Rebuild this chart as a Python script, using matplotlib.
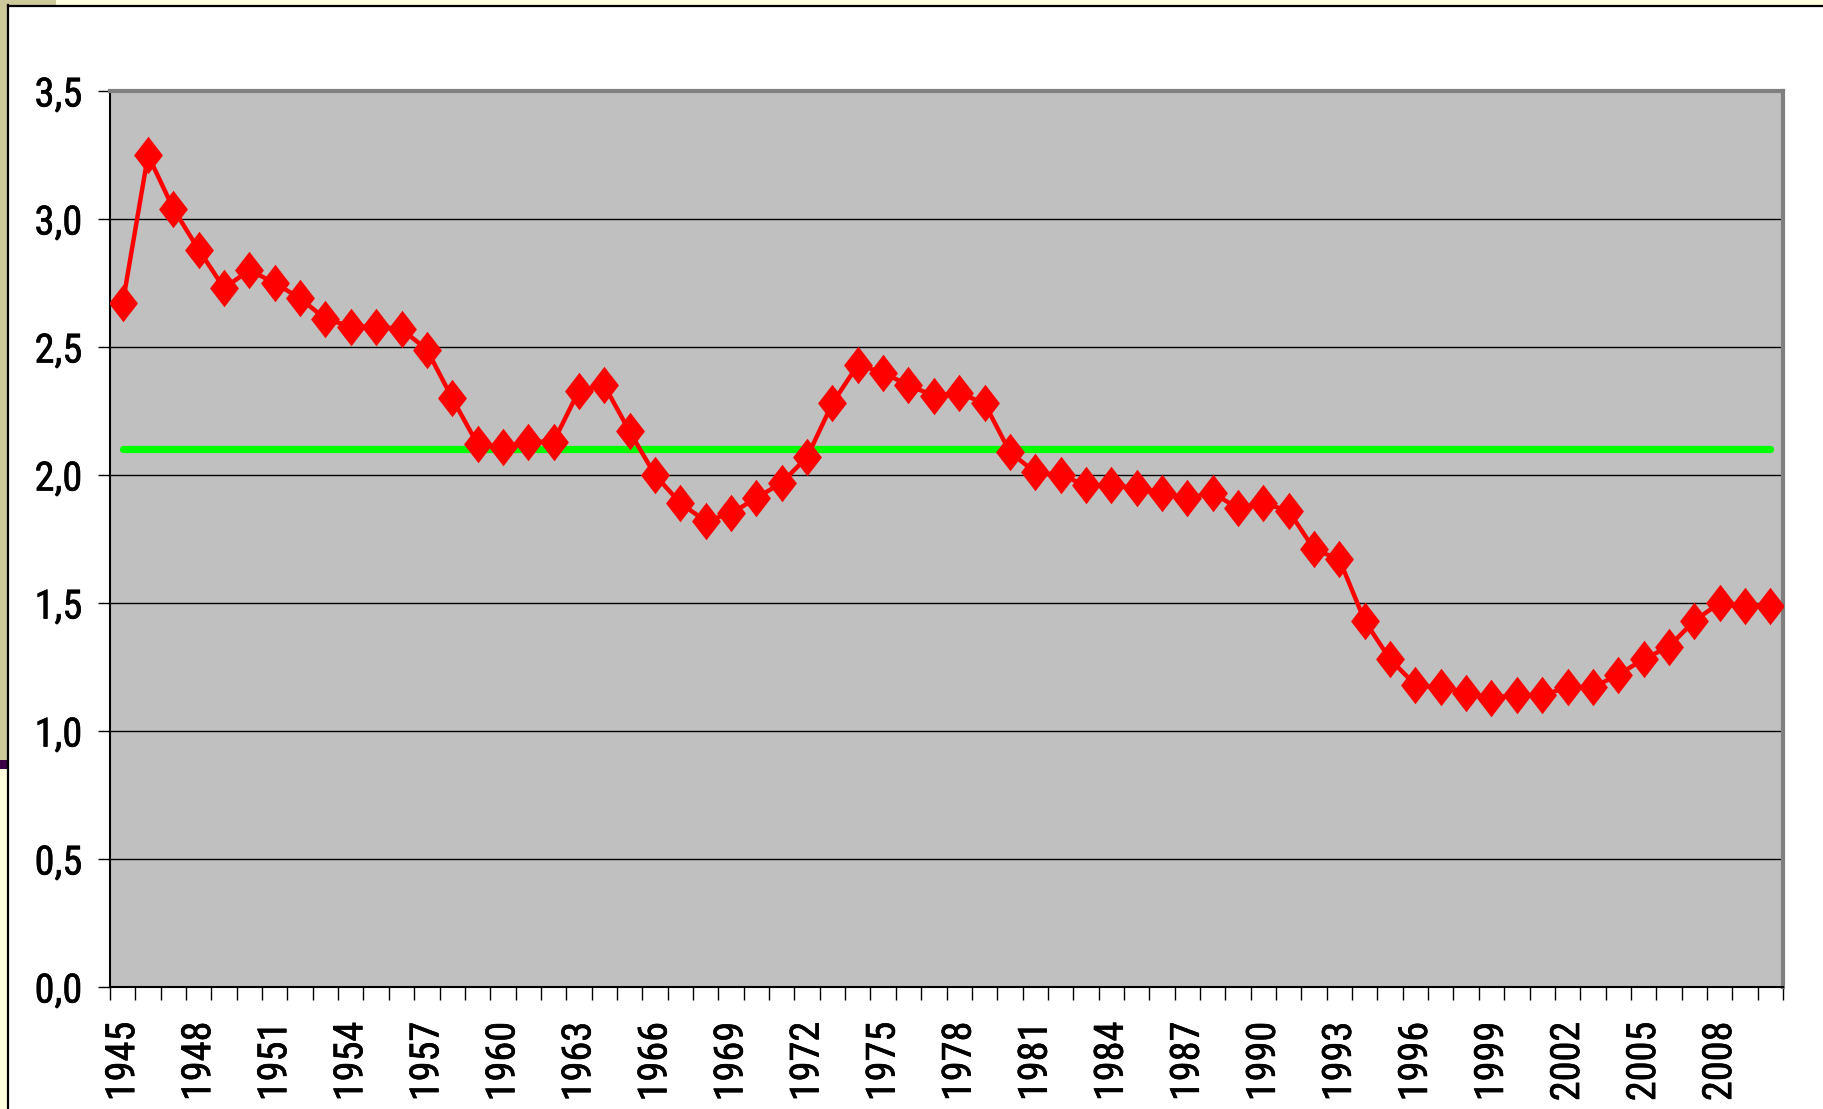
import matplotlib
matplotlib.use("Agg")
import matplotlib.pyplot as plt
from matplotlib.patches import Rectangle
from matplotlib.lines import Line2D
from matplotlib import font_manager
import matplotlib.patheffects as pe

years = list(range(1945, 2011))
values = [2.67, 3.25, 3.04, 2.88, 2.73, 2.80, 2.75, 2.69, 2.61, 2.58,
          2.58, 2.57, 2.49, 2.30, 2.12, 2.11, 2.13, 2.13, 2.33, 2.35,
          2.17, 2.00, 1.89, 1.82, 1.85, 1.91, 1.97, 2.07, 2.28, 2.43,
          2.40, 2.35, 2.31, 2.32, 2.28, 2.09, 2.01, 2.00, 1.96, 1.96,
          1.95, 1.93, 1.91, 1.93, 1.87, 1.89, 1.86, 1.71, 1.67, 1.43,
          1.28, 1.18, 1.17, 1.15, 1.13, 1.14, 1.14, 1.17, 1.17, 1.22,
          1.28, 1.33, 1.43, 1.50, 1.49, 1.49]
replacement_level = 2.1
y_ticks = [0.0, 0.5, 1.0, 1.5, 2.0, 2.5, 3.0, 3.5]
y_tick_labels = ["0,0", "0,5", "1,0", "1,5", "2,0", "2,5", "3,0", "3,5"]
label_years = years[::3]

W, H = 1823, 1109
fig = plt.figure(figsize=(W / 100, H / 100), dpi=100)
fig.patch.set_facecolor("white")

def px_rect(x0, y0, x1, y1, color, z=0):
    fig.patches.append(Rectangle((x0 / W, 1 - y1 / H), (x1 - x0) / W, (y1 - y0) / H,
                                 transform=fig.transFigure, facecolor=color,
                                 edgecolor="none", zorder=z))

# outer slide frame
px_rect(0, 0, W, 5, "#FFFFDD")
px_rect(0, 0, 56, 5, "#CCC99A")
px_rect(0, 0, 7, 760, "#CCC99A")
px_rect(0, 760, 7, 769, "#3C0046")
px_rect(0, 769, 7, H, "#FFFFDD")
fig.lines.append(Line2D([7.5 / W, 7.5 / W], [0, 1 - 5 / H], transform=fig.transFigure,
                        color="black", lw=1.6))
fig.lines.append(Line2D([7.5 / W, 1], [1 - 5.5 / H, 1 - 5.5 / H], transform=fig.transFigure,
                        color="black", lw=1.6))

left, right, top, bottom = 110, 1783, 91, 987
ax = fig.add_axes([left / W, 1 - bottom / H, (right - left) / W, (bottom - top) / H])
ax.set_facecolor("#C0C0C0")

n = len(years)
xs = [i + 0.5 for i in range(n)]
diamond = [(-0.77, 0), (0, 1), (0.77, 0), (0, -1), (-0.77, 0)]
ax.plot([xs[0], xs[-1]], [replacement_level, replacement_level], color="#00FF00",
        lw=5.2, solid_capstyle="round", zorder=3)
ax.plot(xs, values, color="#FF0000", lw=3.2, marker=diamond, markersize=27,
        markeredgewidth=0, zorder=4)

ax.set_xlim(0, n)
ax.set_ylim(0, 3.5)

ax.set_yticks(y_ticks)
ax.set_yticklabels(y_tick_labels)
for yv in y_ticks[1:-1]:
    ax.axhline(yv, color="black", lw=1.0, zorder=1)

ax.set_xticks(range(n + 1))
ax.set_xticklabels([])
ax.set_xticks([years.index(y) + 0.5 for y in label_years], minor=True)
ax.set_xticklabels([str(y) for y in label_years], minor=True, rotation=90)

font = ["Liberation Sans", "DejaVu Sans"]
fsize = 27
for cand in ["Liberation Sans Narrow", "Arial Narrow", "Roboto Condensed"]:
    try:
        font_manager.findfont(font_manager.FontProperties(family=cand),
                              fallback_to_default=False)
        font = [cand, "DejaVu Sans"]
        fsize = 29
        break
    except Exception:
        pass

for lab in ax.get_yticklabels() + ax.get_xticklabels(minor=True):
    lab.set_family(font)
    lab.set_fontsize(fsize)
    lab.set_path_effects([pe.withStroke(linewidth=0.45, foreground="black")])

ax.tick_params(axis="y", which="major", length=9, width=1.0, color="black", pad=11)
ax.tick_params(axis="x", which="major", length=9.5, width=1.0, color="black")
ax.tick_params(axis="x", which="minor", length=0, pad=25)

for side in ["left", "bottom"]:
    ax.spines[side].set_color("black")
    ax.spines[side].set_linewidth(1.5)
for side in ["top", "right"]:
    ax.spines[side].set_color("#808080")
    ax.spines[side].set_linewidth(3)

fig.savefig("out.png", dpi=100)
